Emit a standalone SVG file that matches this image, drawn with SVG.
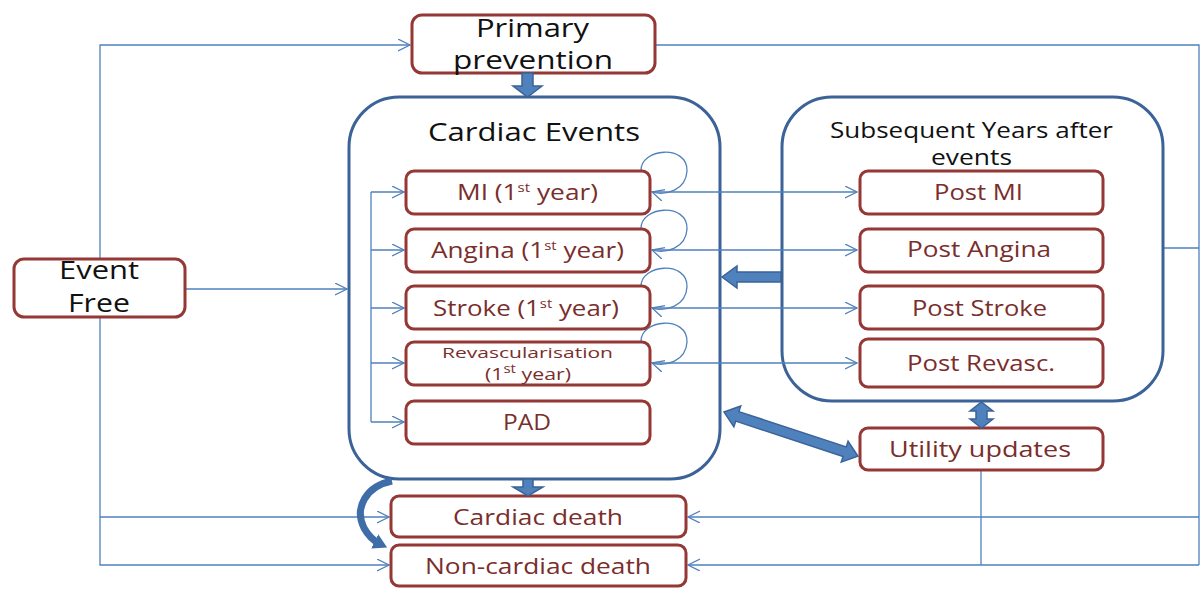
<svg xmlns="http://www.w3.org/2000/svg" width="1203" height="596" viewBox="0 0 1203 596">
<style>
.bg{fill:#ffffff}
.rbox{fill:#ffffff;stroke:#953735;stroke-width:3}
.cont{fill:#ffffff;stroke:#3B6397;stroke-width:3}
.t{font-family:"Open Sans","Noto Sans",sans-serif;text-anchor:middle}
.blk{fill:#111111}
.red{fill:#7A2E2C}
.sup{font-size:12px}
.conn{fill:none;stroke:#4F81BD;stroke-width:1.3}
.big{fill:#4F81BD;stroke:#3B6397;stroke-width:1.5}
</style>
<defs>
<marker id="open" markerUnits="userSpaceOnUse" markerWidth="16" markerHeight="16" refX="12" refY="6" orient="auto">
<path d="M0,0 L12,6 L0,12" fill="none" stroke="#4F81BD" stroke-width="1.3"/>
</marker>
<marker id="thick" markerUnits="userSpaceOnUse" markerWidth="20" markerHeight="20" refX="6" refY="8" orient="auto">
<path d="M0,0 L14,8 L0,16 z" fill="#3E6DA8"/>
</marker>
</defs>
<rect class="bg" x="0" y="0" width="1203" height="596"/>

<g id="connectors">
<path class="conn" d="M100,259 V45 H410" marker-end="url(#open)"/>
<path class="conn" d="M185,289 H347" marker-end="url(#open)"/>
<path class="conn" d="M100,317 V565 H389" marker-end="url(#open)"/>
<path class="conn" d="M100,517 H389" marker-end="url(#open)"/>
<path class="conn" d="M655,45 H1199 V565"/>
<path class="conn" d="M1163,248 H1199"/>
<path class="conn" d="M1199,517 H688" marker-end="url(#open)"/>
<path class="conn" d="M1199,565 H688" marker-end="url(#open)"/>
<path class="conn" d="M981,470 V565"/>
</g>

<g id="primary-prevention">
<rect class="rbox" x="412" y="15" width="243" height="58" rx="10"/>
<text class="t blk" x="532.5" y="37" font-size="25" textLength="113" lengthAdjust="spacingAndGlyphs">Primary</text>
<text class="t blk" x="533" y="69" font-size="25" textLength="160" lengthAdjust="spacingAndGlyphs">prevention</text>
</g>

<g id="event-free">
<rect class="rbox" x="14" y="259" width="171" height="58" rx="10"/>
<text class="t blk" x="99" y="279" font-size="26" textLength="80" lengthAdjust="spacingAndGlyphs">Event</text>
<text class="t blk" x="99" y="312" font-size="26" textLength="62" lengthAdjust="spacingAndGlyphs">Free</text>
</g>

<g id="cardiac-events">
<rect class="cont" x="349" y="97" width="371" height="382" rx="50"/>
<text class="t blk" x="534" y="141" font-size="25" textLength="212" lengthAdjust="spacingAndGlyphs">Cardiac Events</text>
</g>

<g id="subsequent-years">
<rect class="cont" x="782" y="97" width="381" height="304" rx="50"/>
<text class="t blk" x="971.5" y="138" font-size="21" textLength="283" lengthAdjust="spacingAndGlyphs">Subsequent Years after</text>
<text class="t blk" x="971.5" y="165" font-size="21" textLength="81" lengthAdjust="spacingAndGlyphs">events</text>
</g>

<g id="inner-connectors">
<path class="conn" d="M371,192 V422"/>
<path class="conn" d="M371,192 H404" marker-end="url(#open)"/>
<path class="conn" d="M371,250 H404" marker-end="url(#open)"/>
<path class="conn" d="M371,308 H404" marker-end="url(#open)"/>
<path class="conn" d="M371,363 H404" marker-end="url(#open)"/>
<path class="conn" d="M371,422 H404" marker-end="url(#open)"/>
<path class="conn" d="M652,192 H857" marker-end="url(#open)"/>
<path class="conn" d="M652,250 H857" marker-end="url(#open)"/>
<path class="conn" d="M652,308 H857" marker-end="url(#open)"/>
<path class="conn" d="M652,363 H857" marker-end="url(#open)"/>
<path class="conn" d="M641,171 C640,148 688,144 687,171 C686,190 666,196 652,192" marker-end="url(#open)"/>
<path class="conn" d="M641,229 C640,206 688,202 687,229 C686,248 666,254 652,250" marker-end="url(#open)"/>
<path class="conn" d="M641,287 C640,264 688,260 687,287 C686,306 666,312 652,308" marker-end="url(#open)"/>
<path class="conn" d="M641,342 C640,319 688,315 687,342 C686,361 666,367 652,363" marker-end="url(#open)"/>
</g>

<g id="mi">
<rect class="rbox" x="406" y="171" width="244" height="43" rx="8"/>
<text class="t red" x="527.5" y="200" font-size="21" textLength="141" lengthAdjust="spacingAndGlyphs">MI (1<tspan class="sup" dy="-8">st</tspan><tspan dy="8"> year)</tspan></text>
</g>
<g id="angina">
<rect class="rbox" x="406" y="229" width="244" height="43" rx="8"/>
<text class="t red" x="527.5" y="258" font-size="21" textLength="193" lengthAdjust="spacingAndGlyphs">Angina (1<tspan class="sup" dy="-8">st</tspan><tspan dy="8"> year)</tspan></text>
</g>
<g id="stroke">
<rect class="rbox" x="406" y="286" width="244" height="43" rx="8"/>
<text class="t red" x="526" y="316" font-size="21" textLength="186" lengthAdjust="spacingAndGlyphs">Stroke (1<tspan class="sup" dy="-8">st</tspan><tspan dy="8"> year)</tspan></text>
</g>
<g id="revasc">
<rect class="rbox" x="406" y="342" width="244" height="43" rx="8"/>
<text class="t red" x="527.5" y="358" font-size="15" textLength="171" lengthAdjust="spacingAndGlyphs">Revascularisation</text>
<text class="t red" x="528" y="380" font-size="17" textLength="86" lengthAdjust="spacingAndGlyphs">(1<tspan class="sup" font-size="10" dy="-7">st</tspan><tspan dy="7"> year)</tspan></text>
</g>
<g id="pad">
<rect class="rbox" x="406" y="401" width="244" height="43" rx="8"/>
<text class="t red" x="527" y="430" font-size="21" textLength="48" lengthAdjust="spacingAndGlyphs">PAD</text>
</g>

<g id="post-mi">
<rect class="rbox" x="860" y="171" width="243" height="43" rx="8"/>
<text class="t red" x="978.5" y="200" font-size="21" textLength="89" lengthAdjust="spacingAndGlyphs">Post MI</text>
</g>
<g id="post-angina">
<rect class="rbox" x="860" y="229" width="243" height="43" rx="8"/>
<text class="t red" x="979" y="257" font-size="21" textLength="144" lengthAdjust="spacingAndGlyphs">Post Angina</text>
</g>
<g id="post-stroke">
<rect class="rbox" x="860" y="286" width="243" height="43" rx="8"/>
<text class="t red" x="979.5" y="316" font-size="21" textLength="135" lengthAdjust="spacingAndGlyphs">Post Stroke</text>
</g>
<g id="post-revasc">
<rect class="rbox" x="860" y="339" width="243" height="48" rx="8"/>
<text class="t red" x="981" y="371" font-size="21" textLength="148" lengthAdjust="spacingAndGlyphs">Post Revasc.</text>
</g>
<g id="utility-updates">
<rect class="rbox" x="860" y="428" width="243" height="42" rx="8"/>
<text class="t red" x="980" y="457" font-size="21" textLength="182" lengthAdjust="spacingAndGlyphs">Utility updates</text>
</g>
<g id="cardiac-death">
<rect class="rbox" x="391" y="496" width="295" height="41" rx="8"/>
<text class="t red" x="538" y="525" font-size="22" textLength="170" lengthAdjust="spacingAndGlyphs">Cardiac death</text>
</g>
<g id="non-cardiac-death">
<rect class="rbox" x="391" y="545" width="295" height="41" rx="8"/>
<text class="t red" x="538" y="574" font-size="22" textLength="226" lengthAdjust="spacingAndGlyphs">Non-cardiac death</text>
</g>

<g id="thick-arrows">
<polygon class="big" points="522,73 533,73 533,86 542,86 527.5,97 513,86 522,86"/>
<polygon class="big" points="523,479 533,479 533,487 543,487 528,496 513,487 523,487"/>
<polygon class="big" points="781,272 737,272 737,266 722,277 737,288 737,282 781,282"/>
<polygon class="big" points="981.5,402 993,411 987,411 987,419 993,419 981.5,428 970,419 976,419 976,411 970,411"/>
<polygon class="big" transform="translate(724,412) rotate(18.2)" points="0,0 14,-11 14,-5 127,-5 127,-11 141,0 127,11 127,5 14,5 14,11"/>
<path d="M392,481 C366,486 354,508 364,528 C369,537 374,541 380,544" fill="none" stroke="#3E6DA8" stroke-width="7" marker-end="url(#thick)"/>
</g>
</svg>
